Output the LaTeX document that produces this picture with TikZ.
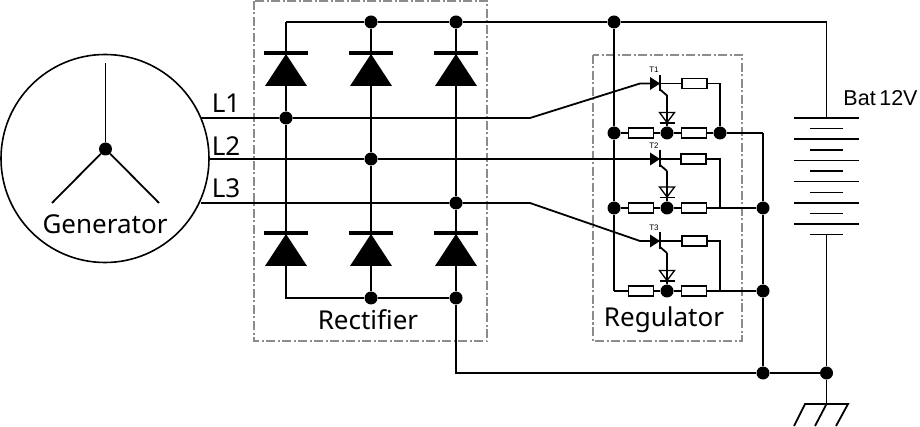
\documentclass[tikz,border=0pt]{standalone}
\usepackage{fontspec}
\setmainfont{Noto Sans}
\newfontfamily\arialfont{Liberation Sans}
\tikzset{
  wire/.style={line width=1.8pt},
  dot/.style={circle,fill=black,inner sep=0pt,minimum size=13pt},
  res/.style={draw,fill=white,line width=1.4pt,minimum width=25pt,minimum height=10pt,inner sep=0pt},
  frame/.style={draw=black!45,line width=1.4pt,dash pattern=on 9pt off 2.5pt on 2pt off 2.5pt},
  bigtext/.style={anchor=base,inner sep=0pt,font=\fontsize{26}{26}\selectfont},
  tlabel/.style={inner sep=0pt,font=\arialfont\fontsize{8}{8}\selectfont},
  plate/.style={line width=1.8pt},
  powerdiode/.pic={
    \fill (-21,33) -- (0,1) -- (21,33) -- cycle;
    \draw[line width=3.2pt] (-22,0) -- (22,0);
  },
  scr/.pic={
    \fill (-10,-6.5) -- (0,0) -- (-10,6.5) -- cycle;
    \draw[line width=2.2pt] (0,-8.5) -- (0,8);
    \draw[wire] (0,6) -- (7,12);
  },
  gatediode/.pic={
    \draw[line width=1.3pt] (-7.5,0) -- (7.5,0) -- (0,10) -- cycle;
    \draw[line width=1.8pt] (-7.5,10.5) -- (7.5,10.5);
  }
}
\begin{document}
\begin{tikzpicture}[x=1pt,y=-1pt]
\useasboundingbox (0,0) rectangle (920,427);

% frames
\draw[frame] (254,1) rectangle (487,341);
\draw[frame] (593,55) rectangle (742,341);

% generator
\node[draw,circle,line width=1.6pt,minimum size=208pt,inner sep=0pt] (gen) at (105,158.5) {};
\node[dot] (hub) at (105.5,149) {};
\coordinate (spokeA) at (105.5,63);
\coordinate (spokeB) at (52,203);
\coordinate (spokeC) at (159,203);
\draw[wire] (hub)--(spokeA);
\draw[wire] (hub)--(spokeB);
\draw[wire] (hub)--(spokeC);
\node[bigtext] (genlabel) at (105,234) {Generator};

\node[bigtext] (labelA) at (226,113) {L1};
\node[bigtext] (labelB) at (226,156) {L2};
\node[bigtext] (labelC) at (226,198) {L3};

% rectifier nodes
\coordinate (topleft) at (286,22);
\node[dot] (topmid) at (371,22) {};
\node[dot] (topright) at (456,22) {};
\node[dot] (topreg) at (614,22) {};
\coordinate (topbat) at (826.5,22);
\coordinate (botleft) at (286,298);
\node[dot] (botmid) at (371,298) {};
\node[dot] (botright) at (456,298) {};
\coordinate (botcorner) at (456,373);
\node[dot] (gndsplit) at (763,373) {};
\node[dot] (gndbat) at (826.5,373) {};
\node[dot] (phaseA) at (286,118) {};
\node[dot] (phaseB) at (371,159) {};
\node[dot] (phaseC) at (456,203) {};

\draw[wire] (topleft)--(topmid)--(topright)--(topreg)--(topbat);
\draw[wire] (topleft)--(phaseA)--(botleft)--(botmid)--(botright)--(botcorner)--(gndsplit)--(gndbat);
\draw[wire] (topmid)--(phaseB)--(botmid);
\draw[wire] (topright)--(phaseC)--(botright);

\pic at (286,53) {powerdiode};
\pic at (371,53) {powerdiode};
\pic at (456,53) {powerdiode};
\pic at (286,233) {powerdiode};
\pic at (371,233) {powerdiode};
\pic at (456,233) {powerdiode};

\node[bigtext] (rectlabel) at (368,329) {Rectifier};

% phases into regulator
\coordinate (startA) at (201,118);
\coordinate (startB) at (210,159);
\coordinate (startC) at (201,203);
\coordinate (kneeA) at (530,118);
\coordinate (kneeC) at (530,203);
\coordinate (gateinA) at (640,83.5);
\coordinate (scrA) at (660,83.5);
\coordinate (scrB) at (660,159);
\coordinate (gateinC) at (640,241);
\coordinate (scrC) at (660,241);
\draw[wire] (startA)--(phaseA)--(kneeA)--(gateinA)--(scrA);
\draw[wire] (startB)--(phaseB)--(scrB);
\draw[wire] (startC)--(phaseC)--(kneeC)--(gateinC)--(scrC);

% regulator rail
\node[dot] (railA) at (614,133) {};
\node[dot] (railB) at (614,208) {};
\coordinate (railC) at (614,291);
\draw[wire] (topreg)--(railA)--(railB)--(railC);

% first stage
\node[res] (resAa) at (641,133) {};
\node[res] (resAb) at (694,133) {};
\node[res] (resAc) at (694.5,83.5) {};
\node[dot] (midA) at (667,133) {};
\node[dot] (outA) at (720,133) {};
\coordinate (cornerA) at (720,83.5);
\coordinate (rightA) at (763,133);
\draw[wire] (railA)--(resAa)--(midA)--(resAb)--(outA)--(rightA);
\draw[wire] (scrA)--(resAc)--(cornerA)--(outA);

% second stage
\node[res] (resBa) at (641,208) {};
\node[res] (resBb) at (694,208) {};
\node[res] (resBc) at (693.5,159) {};
\node[dot] (midB) at (667,208) {};
\coordinate (outB) at (720,208);
\node[dot] (rightB) at (763,208) {};
\coordinate (cornerB) at (720,159);
\draw[wire] (railB)--(resBa)--(midB)--(resBb)--(outB)--(rightB);
\draw[wire] (scrB)--(resBc)--(cornerB)--(outB);

% third stage
\node[res] (resCa) at (641,291) {};
\node[res] (resCb) at (694,291) {};
\node[res] (resCc) at (694.5,241) {};
\node[dot] (midC) at (667,291) {};
\coordinate (outC) at (720,291);
\node[dot] (rightC) at (763,291) {};
\coordinate (cornerC) at (720,241);
\draw[wire] (railC)--(resCa)--(midC)--(resCb)--(outC)--(rightC);
\draw[wire] (scrC)--(resCc)--(cornerC)--(outC);

\draw[wire] (rightA)--(rightB)--(rightC)--(gndsplit);

% gates
\coordinate (gateA) at (667,95.5);
\coordinate (gateB) at (667,171);
\coordinate (gateC) at (667,253);
\draw[wire] (gateA)--(midA);
\draw[wire] (gateB)--(midB);
\draw[wire] (gateC)--(midC);
\pic at (scrA) {scr};
\pic at (scrB) {scr};
\pic at (scrC) {scr};
\pic at (667,112.5) {gatediode};
\pic at (667,187) {gatediode};
\pic at (667,270.5) {gatediode};

\node[tlabel] (nameA) at (654,70) {T1};
\node[tlabel] (nameB) at (654,146) {T2};
\node[tlabel] (nameC) at (654,228) {T3};
\node[bigtext] (reglabel) at (664,326.5) {Regulator};

% battery
\coordinate (batplus) at (826.5,118);
\coordinate (batminus) at (826.5,234.5);
\draw[wire] (topbat)--(batplus);
\draw[wire] (batminus)--(gndbat);
\draw[plate] (794,118)--(859,118);
\draw[plate] (810,128.5)--(843,128.5);
\draw[plate] (794,139)--(859,139);
\draw[plate] (810,150)--(843,150);
\draw[plate] (794,160.5)--(859,160.5);
\draw[plate] (810,171)--(843,171);
\draw[plate] (794,181.5)--(859,181.5);
\draw[plate] (810,192.5)--(843,192.5);
\draw[plate] (794,203)--(859,203);
\draw[plate] (810,213.5)--(843,213.5);
\draw[plate] (794,224)--(859,224);
\draw[plate] (810,234.5)--(843,234.5);
\node[anchor=base,inner sep=0pt,font=\arialfont\fontsize{21.5}{21.5}\selectfont] (batlabel) at (880.5,106) {Bat\,12V};

% ground
\coordinate (gndtop) at (826.5,404);
\draw[wire] (gndbat)--(gndtop);
\draw[wire] (794,426)--(805,404)--(848,404)--(836,426);
\draw[wire] (gndtop)--(815,426);

\end{tikzpicture}
\end{document}
